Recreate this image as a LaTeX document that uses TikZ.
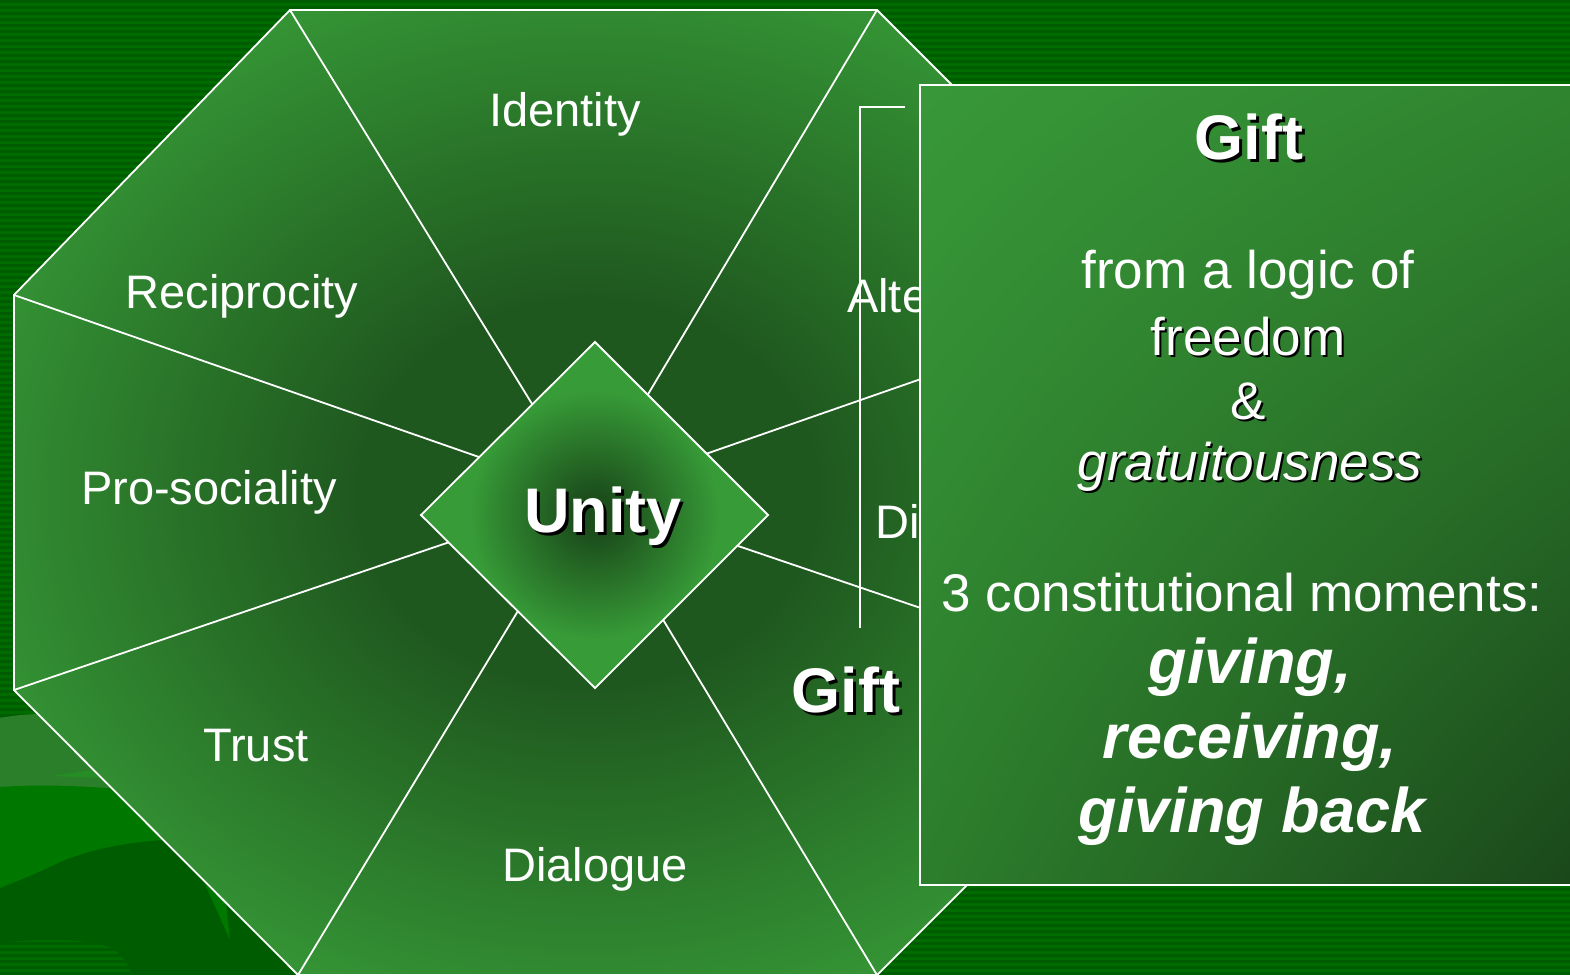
\documentclass[tikz,border=0pt]{standalone}
\usepackage{fontspec}
\setmainfont{Liberation Sans}
\usetikzlibrary{shadings}
\definecolor{bgA}{HTML}{006C00}
\definecolor{bgB}{HTML}{005C00}
\definecolor{blobA}{HTML}{2B7F2B}
\definecolor{blobB}{HTML}{007800}
\definecolor{blobC}{HTML}{005C00}
\definecolor{secLt}{HTML}{379B37}
\definecolor{secDk}{HTML}{1F581F}
\definecolor{diaDk}{HTML}{1C4E1C}
\definecolor{boxUL}{HTML}{389838}
\definecolor{boxUR}{HTML}{2F842F}
\definecolor{boxLL}{HTML}{2C7E2C}
\definecolor{boxLR}{HTML}{1A461A}
\pgfdeclareradialshading{octshade}{\pgfpoint{0bp}{0bp}}{color(0bp)=(secDk); color(10bp)=(secDk); color(30bp)=(secLt); color(50bp)=(secLt)}
\pgfdeclareradialshading{diashade}{\pgfpoint{0bp}{0bp}}{color(0bp)=(diaDk); color(3bp)=(diaDk); color(18bp)=(secLt); color(50bp)=(secLt)}
\newcommand\shd[2][3pt]{\leavevmode\rlap{\kern#1\raisebox{-#1}{\textcolor{black}{#2}}}#2}
\tikzset{
  secline/.style={draw=white, line width=1.8pt},
  lbl/.style={text=white, inner sep=0pt, font=\fontsize{47}{56}\selectfont},
  boxtxt/.style={text=white, inner sep=0pt, font=\fontsize{53}{62}\selectfont},
  boxbold/.style={text=white, inner sep=0pt, font=\fontsize{63}{72}\selectfont\bfseries},
  boxbi/.style={text=white, inner sep=0pt, font=\fontsize{63}{72}\selectfont\bfseries\itshape},
}
\begin{document}
\begin{tikzpicture}[x=1pt,y=-1pt]
\useasboundingbox (0,0) rectangle (1570,975);
\clip (0,0) rectangle (1570,975);
% background stripes
\fill[bgA] (0,0) rectangle (1570,975);
\foreach \i in {0,...,163} { \fill[bgB] (0,\i*6) rectangle (1570,\i*6+3); }
% bottom-left organic shapes
\fill[blobA] (0,718) .. controls (15,715) and (30,714) .. (45,714) -- (160,714) -- (160,792) -- (0,787) -- cycle;
\fill[blobC] (0,830) rectangle (330,975);
\fill[blobB] (0,787) .. controls (40,784) and (90,786) .. (130,790) -- (220,790) -- (220,838) .. controls (150,838) and (100,845) .. (60,862) .. controls (40,872) and (20,880) .. (0,888) -- cycle;
\fill[blobB!85!white] (50,776) -- (100,769) -- (104,778) -- cycle;
\fill[blobB] (205,884) -- (226,902) -- (230,940) -- cycle;
\begin{scope}
  \clip (0,943) .. controls (50,937) and (100,940) .. (115,950) .. controls (125,958) and (130,968) .. (132,975) -- (0,975) -- cycle;
  \fill[bgA] (0,930) rectangle (140,975);
  \foreach \i in {155,...,163} { \fill[bgB] (0,\i*6) rectangle (140,\i*6+3); }
\end{scope}
% octagon
\coordinate (V1) at (290,10);
\coordinate (V2) at (877,10);
\coordinate (V3) at (1162,295);
\coordinate (V4) at (1162,690);
\coordinate (V5) at (877,975);
\coordinate (V6) at (298,975);
\coordinate (V7) at (14,690);
\coordinate (V8) at (14,295);
\coordinate (C) at (588,495);
\shade[shading=octshade] (V1) -- (V2) -- (V3) -- (V4) -- (V5) -- (V6) -- (V7) -- (V8) -- cycle;
\foreach \v in {V1,V2,V3,V4,V5,V6,V7,V8} { \draw[secline] (\v) -- (C); }
\draw[secline, line join=miter] (V1) -- (V2) -- (V3) -- (V4) -- (V5) -- (V6) -- (V7) -- (V8) -- cycle;
% central diamond
\coordinate (DT) at (595,342);
\coordinate (DR) at (768,515);
\coordinate (DB) at (595,688);
\coordinate (DL) at (421,515);
\shade[shading=diashade] (DT) -- (DR) -- (DB) -- (DL) -- cycle;
\draw[secline] (DT) -- (DR) -- (DB) -- (DL) -- cycle;
\node[boxbold] (unity) at (603,518) {\shd{Unity}};
% sector labels
\node[lbl] (identity) at (565,114) {Identity};
\node[lbl] (recip) at (242,296) {Reciprocity};
\node[lbl] (prosoc) at (209,492) {Pro-sociality};
\node[lbl] (trust) at (256,746) {Trust};
\node[lbl] (dialogue) at (595,869) {Dialogue};
\node[lbl, anchor=west] (alte) at (847,296) {Alte};
\node[lbl, anchor=west] (di) at (875,521) {Di};
\node[boxbold] (giftsec) at (846,691) {\shd{Gift}};
% bracket
\coordinate (BrA) at (905,107);
\coordinate (BrB) at (860,107);
\coordinate (BrC) at (860,628);
\draw[secline] (BrA) -- (BrB) -- (BrC);
% popup box
\shade[upper left=boxUL, upper right=boxUR, lower left=boxLL, lower right=boxLR] (920,85) rectangle (1585,885);
\draw[draw=white, line width=2.4pt] (920,85) rectangle (1585,885);
\node[boxbold] (gifttitle) at (1249,138) {\shd{Gift}};
\node[boxtxt] (l1) at (1248,275) {from a logic of};
\node[boxtxt] (l2) at (1248,338) {\shd[2pt]{freedom}};
\node[boxtxt] (l3) at (1248,402) {\shd[2pt]{\&}};
\node[boxtxt] (l4) at (1250,468) {\itshape\shd[2pt]{gratuitousness}};
\node[boxtxt] (l5) at (1242,593) {3 constitutional moments:};
\node[boxbi] (l6) at (1250,667) {giving,};
\node[boxbi] (l7) at (1250,742) {receiving,};
\node[boxbi] (l8) at (1252,816) {giving back};
\end{tikzpicture}
\end{document}
